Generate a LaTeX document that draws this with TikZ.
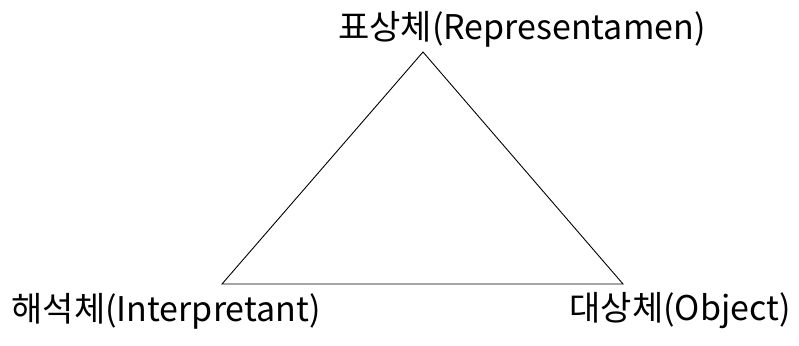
\documentclass[tikz,border=0pt]{standalone}
\usepackage{fontspec}
\setmainfont{Noto Sans CJK KR}
\usetikzlibrary{positioning}

\begin{document}
\begin{tikzpicture}[
  x=1pt, y=-1pt,
  oznaka/.style={inner sep=0pt, font=\fontsize{34}{40}\selectfont},
  stranica/.style={line width=0.9pt, line join=miter}
]
\useasboundingbox (0,0) rectangle (799,345);

\coordinate (vrh) at (423,52);
\coordinate (lijevo) at (222,284);
\coordinate (desno) at (623,284);

\node[oznaka] (rep) at (522,29) {표상체(Representamen)};
\node[oznaka] (int) at (166,311) {해석체(Interpretant)};
\node[oznaka] (obj) at (680,311) {대상체(Object)};

\draw[stranica] (vrh) -- (lijevo) -- (desno) -- cycle;
\end{tikzpicture}
\end{document}
